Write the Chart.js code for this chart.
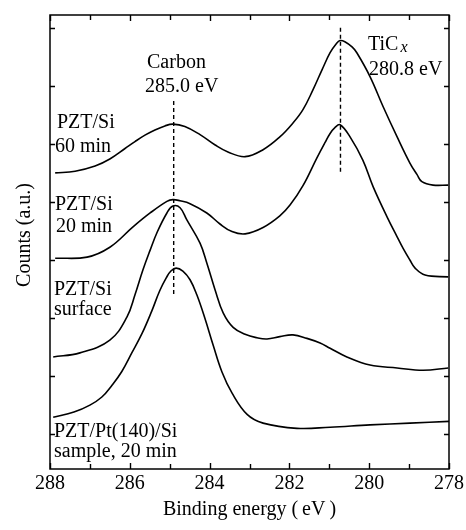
<!DOCTYPE html>
<html>
<head>
<meta charset="utf-8">
<script src="https://cdn.jsdelivr.net/npm/chart.js@4/dist/chart.umd.min.js"></script>
<style>
  html, body { margin: 0; padding: 0; background: #fff; }
  #wrap { width: 466px; height: 530px; }
</style>
</head>
<body>
<div id="wrap"><canvas id="c" width="466" height="530"></canvas></div>
<script>
// ---- data (binding energy in eV, counts in arbitrary units with vertical offsets) ----
const xTickValues = [278, 279, 280, 281, 282, 283, 284, 285, 286, 287, 288];
const xTickLabels = ['278', '', '280', '', '282', '', '284', '', '286', '', '288'];
const yTickValues = [0, 1, 2, 3, 4, 5, 6, 7];

const seriesNames = ['PZT/Si 60 min', 'PZT/Si 20 min', 'PZT/Si surface', 'PZT/Pt(140)/Si sample, 20 min'];

const energy60 = [287.87, 287.37, 286.87, 286.50, 286.12, 285.87, 285.62, 285.37, 285.12, 284.92, 284.62, 284.24, 283.86, 283.54, 283.11, 282.66, 282.24, 281.91, 281.66, 281.41, 281.18, 280.98, 280.83, 280.73, 280.61, 280.43, 280.31, 279.98, 279.65, 279.30, 278.98, 278.80, 278.68, 278.40, 278.02];
const counts60 = [4.50, 4.53, 4.62, 4.74, 4.92, 5.04, 5.15, 5.24, 5.31, 5.34, 5.30, 5.16, 4.98, 4.86, 4.78, 4.90, 5.12, 5.36, 5.59, 5.93, 6.28, 6.57, 6.72, 6.78, 6.76, 6.67, 6.57, 6.16, 5.64, 5.12, 4.67, 4.47, 4.35, 4.29, 4.29];

const energy20 = [287.87, 287.07, 286.50, 285.92, 285.49, 285.07, 284.92, 284.74, 284.49, 284.07, 283.74, 283.44, 283.11, 282.66, 282.24, 281.98, 281.66, 281.31, 281.11, 280.98, 280.86, 280.73, 280.48, 280.16, 279.90, 279.55, 279.30, 279.15, 278.98, 278.85, 278.60, 278.02];
const counts20 = [3.03, 3.05, 3.22, 3.57, 3.81, 4.01, 4.04, 4.02, 3.97, 3.81, 3.62, 3.49, 3.45, 3.56, 3.76, 3.95, 4.28, 4.76, 5.02, 5.18, 5.28, 5.33, 5.12, 4.72, 4.26, 3.74, 3.40, 3.20, 3.00, 2.86, 2.74, 2.71];

const energySurf = [287.92, 287.25, 286.50, 286.07, 285.87, 285.67, 285.49, 285.32, 285.07, 284.92, 284.74, 284.57, 284.24, 284.07, 283.86, 283.66, 283.41, 283.11, 282.81, 282.56, 282.24, 281.91, 281.56, 281.23, 280.98, 280.56, 279.98, 279.30, 278.65, 278.02];
const countsSurf = [1.33, 1.40, 1.62, 2.02, 2.40, 2.83, 3.17, 3.47, 3.81, 3.93, 3.90, 3.69, 3.29, 2.95, 2.48, 2.09, 1.84, 1.72, 1.66, 1.64, 1.68, 1.71, 1.65, 1.57, 1.48, 1.33, 1.19, 1.14, 1.10, 1.14];

const energyPt = [287.92, 287.40, 287.00, 286.70, 286.45, 286.20, 285.95, 285.69, 285.45, 285.25, 285.08, 284.97, 284.84, 284.67, 284.49, 284.32, 284.12, 283.91, 283.69, 283.44, 283.06, 282.66, 281.81, 280.98, 279.98, 278.98, 278.00];
const countsPt = [0.29, 0.38, 0.50, 0.64, 0.84, 1.08, 1.40, 1.74, 2.12, 2.47, 2.70, 2.81, 2.86, 2.81, 2.66, 2.40, 2.00, 1.53, 1.07, 0.71, 0.34, 0.19, 0.10, 0.12, 0.16, 0.19, 0.22];

// reference lines (peak positions)
const carbonLineE = [284.9, 284.9];
const carbonLineC = [5.74, 2.40];
const ticLineE = [280.72, 280.72];
const ticLineC = [7.0, 4.47];

// ---- build ----
const zip = (xs, ys) => xs.map((x, i) => ({ x: x, y: ys[i] }));
const FONT = '"Liberation Serif", "Times New Roman", serif';

const curveStyle = { borderColor: '#000', borderWidth: 1.6, pointRadius: 0, fill: false, tension: 0.4 };
const dashStyle = { borderColor: '#000', borderWidth: 1.4, pointRadius: 0, fill: false, borderDash: [4, 3], tension: 0 };

const datasets = [
  Object.assign({ label: seriesNames[0], data: zip(energy60, counts60) }, curveStyle),
  Object.assign({ label: seriesNames[1], data: zip(energy20, counts20) }, curveStyle),
  Object.assign({ label: seriesNames[2], data: zip(energySurf, countsSurf) }, curveStyle),
  Object.assign({ label: seriesNames[3], data: zip(energyPt, countsPt) }, curveStyle),
  Object.assign({ label: 'Carbon 285.0 eV', data: zip(carbonLineE, carbonLineC) }, dashStyle),
  Object.assign({ label: 'TiCx 280.8 eV', data: zip(ticLineE, ticLineC) }, dashStyle)
];

const framePlugin = {
  id: 'frame',
  afterDraw(chart) {
    const ctx = chart.ctx;
    const a = chart.chartArea;
    const xs = chart.scales.x, ys = chart.scales.y;
    ctx.save();
    ctx.strokeStyle = '#000';
    ctx.lineWidth = 1.5;
    ctx.strokeRect(a.left, a.top, a.right - a.left, a.bottom - a.top);
    ctx.lineWidth = 1.4;
    ctx.beginPath();
    xTickValues.forEach((v, i) => {
      const px = Math.round(xs.getPixelForValue(v)) + 0.5;
      const len = xTickLabels[i] ? 6 : 5;
      ctx.moveTo(px, a.bottom); ctx.lineTo(px, a.bottom - len);
      ctx.moveTo(px, a.top); ctx.lineTo(px, a.top + len);
    });
    yTickValues.forEach(v => {
      const py = Math.round(ys.getPixelForValue(v)) + 0.5;
      ctx.moveTo(a.left, py); ctx.lineTo(a.left + 5, py);
      ctx.moveTo(a.right, py); ctx.lineTo(a.right - 5, py);
    });
    ctx.stroke();

    // annotations
    ctx.fillStyle = '#000';
    ctx.font = '20px ' + FONT;
    ctx.textAlign = 'left';
    ctx.textBaseline = 'alphabetic';
    ctx.fillText('Carbon', 147, 68);
    ctx.fillText('285.0 eV', 145, 92);
    ctx.fillText('TiC', 368, 50);
    const w = ctx.measureText('TiC').width;
    ctx.font = 'italic 16px ' + FONT;
    ctx.fillText('x', 368 + w + 2, 52);
    ctx.font = '20px ' + FONT;
    ctx.fillText('280.8 eV', 369, 75);
    ctx.fillText('PZT/Si', 57, 128);
    ctx.fillText('60 min', 55, 152);
    ctx.fillText('PZT/Si', 55, 210);
    ctx.fillText('20 min', 56, 232);
    ctx.fillText('PZT/Si', 54, 295);
    ctx.fillText('surface', 54, 315);
    ctx.fillText('PZT/Pt(140)/Si', 54, 437);
    ctx.fillText('sample, 20 min', 54, 457);

    // y axis title
    ctx.save();
    ctx.translate(30, 235);
    ctx.rotate(-Math.PI / 2);
    ctx.textAlign = 'center';
    ctx.fillText('Counts (a.u.)', 0, 0);
    ctx.restore();
    ctx.restore();
  }
};

new Chart(document.getElementById('c'), {
  type: 'line',
  data: { datasets: datasets },
  options: {
    responsive: false,
    animation: false,
    devicePixelRatio: 1,
    layout: { padding: { top: 15, right: 17, left: 0, bottom: 0 } },
    plugins: { legend: { display: false }, tooltip: { enabled: false } },
    scales: {
      x: {
        type: 'linear',
        position: 'bottom',
        reverse: true,
        min: 278,
        max: 288,
        afterFit(s) { s.height = 61; },
        afterBuildTicks(s) { s.ticks = xTickValues.map(v => ({ value: v })); },
        ticks: {
          autoSkip: false,
          maxRotation: 0,
          padding: 3,
          color: '#000',
          font: { family: FONT, size: 20 },
          callback: (v) => { const i = xTickValues.indexOf(v); return i >= 0 ? xTickLabels[i] : ''; }
        },
        grid: { display: false, drawTicks: false },
        border: { display: false },
        title: {
          display: true,
          text: 'Binding energy (\u2009eV\u2009)',
          color: '#000',
          font: { family: FONT, size: 20 },
          padding: { top: 0, bottom: 8 }
        }
      },
      y: {
        type: 'linear',
        min: -0.6,
        max: 7.22,
        afterFit(s) { s.width = 50; },
        afterBuildTicks(s) { s.ticks = yTickValues.map(v => ({ value: v })); },
        ticks: { display: false },
        grid: { display: false, drawTicks: false },
        border: { display: false }
      }
    }
  },
  plugins: [framePlugin]
});
</script>
</body>
</html>
